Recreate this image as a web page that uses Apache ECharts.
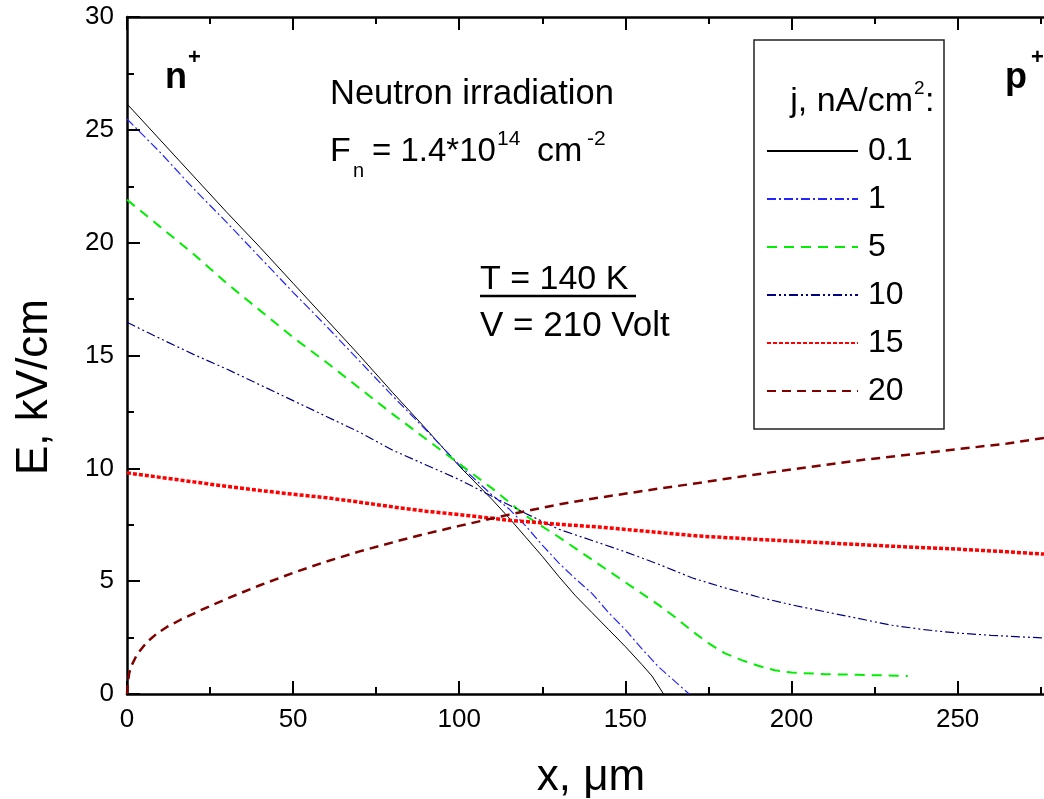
<!DOCTYPE html>
<html><head><meta charset="utf-8">
<script src="https://cdn.jsdelivr.net/npm/echarts@6/dist/echarts.min.js"></script>
<style>html,body{margin:0;padding:0;background:#fff}#c{width:1044px;height:799px}</style>
</head><body><div id="c"></div>
<script>
// ---- data (x in µm, E in kV/cm) ----
const seriesNames = ['0.1', '1', '5', '10', '15', '20'];
const j01 = [[0,26.15],[10,24.55],[20,22.95],[30,21.35],[40,19.8],[50,18.2],[60,16.6],[70,15.0],[80,13.35],[90,11.75],[100,10.1],[110,8.6],[115,7.8],[120,6.95],[125,6.1],[130,5.2],[135,4.35],[140,3.6],[145,2.85],[150,2.1],[155,1.3],[158,0.8],[161.5,0]];
const j1 = [[0,25.48],[10,24.0],[20,22.4],[30,20.9],[40,19.35],[50,17.8],[60,16.3],[70,14.75],[80,13.2],[90,11.7],[100,10.15],[110,8.8],[115,8.2],[120,7.45],[125,6.6],[130,5.8],[135,5.1],[140,4.45],[145,3.6],[150,2.85],[155,2.0],[160,1.2],[165,0.55],[169.2,0]];
const j5 = [[0,21.9],[10,20.7],[20,19.5],[30,18.2],[40,17.0],[50,15.8],[60,14.7],[70,13.55],[80,12.4],[90,11.3],[100,10.2],[110,9.1],[120,7.9],[130,6.95],[140,5.95],[150,4.95],[160,3.95],[165,3.4],[170,2.8],[175,2.25],[180,1.8],[185,1.5],[190,1.25],[195,1.05],[200,0.95],[210,0.88],[220,0.85],[235,0.8]];
const j10 = [[0,16.47],[10,15.75],[20,15.05],[30,14.4],[40,13.7],[50,13.0],[60,12.3],[70,11.6],[80,10.8],[90,10.15],[100,9.5],[110,8.75],[120,8.0],[130,7.3],[140,6.8],[150,6.3],[160,5.75],[170,5.15],[180,4.7],[190,4.3],[200,3.95],[210,3.65],[220,3.35],[230,3.05],[240,2.85],[250,2.7],[260,2.6],[276,2.48]];
const j15 = [[0,9.8],[10,9.6],[20,9.4],[30,9.2],[40,9.02],[50,8.85],[60,8.7],[70,8.5],[82,8.25],[90,8.1],[100,7.95],[115,7.7],[130,7.52],[142,7.4],[157,7.2],[172,7.0],[190,6.85],[210,6.7],[230,6.55],[250,6.42],[265,6.3],[276,6.2]];
const j20 = [[0,0],[0.3,0.55],[0.7,0.95],[1.5,1.3],[3,1.75],[6,2.3],[9,2.68],[12,2.97],[16,3.28],[22,3.7],[30,4.22],[40,4.82],[50,5.37],[60,5.87],[70,6.32],[82,6.8],[90,7.1],[100,7.45],[115,7.95],[130,8.4],[142,8.7],[160,9.1],[172,9.35],[184,9.62],[200,9.95],[220,10.35],[235,10.6],[250,10.85],[265,11.1],[276,11.35]];
const xRange = [0, 276];
const yRange = [0, 30];
const xMajorTicks = [0, 50, 100, 150, 200, 250];
const xMinorTicks = [25, 75, 125, 175, 225, 275];

const FONT = "'Liberation Sans', Arial, Helvetica, sans-serif";
const chart = echarts.init(document.getElementById('c'), null, {renderer: 'canvas'});

function mkSeries(name, data, color, width, type) {
  return {
    name, type: 'line', data, symbol: 'none', showSymbol: false, smooth: false,
    lineStyle: {color, width, type}, itemStyle: {color},
    xAxisIndex: 0, yAxisIndex: 0, silent: true, z: 3
  };
}

const lineCol = {color: '#000', width: 2.5};
function xAx(position, ticks, len, labels, showLine) {
  return {
    type: 'value', min: xRange[0], max: xRange[1], position: position,
    axisLine: {show: showLine, onZero: false, lineStyle: lineCol},
    axisTick: {show: true, inside: true, length: len, customValues: ticks, lineStyle: {color: '#000', width: 2}},
    axisLabel: labels ? {show: true, customValues: ticks, fontSize: 26, fontFamily: FONT, color: '#000', margin: 13} : {show: false},
    minorTick: {show: false}, splitLine: {show: false}
  };
}

function txt(text, x, y, size, opts) {
  opts = opts || {};
  return {
    type: 'text', x: x, y: y, rotation: opts.rotation || 0, z: 10,
    style: {
      text: text, x: 0, y: 0,
      fontSize: size, fontFamily: FONT, fontWeight: opts.bold ? 'bold' : 'normal',
      fill: '#000', align: opts.align || 'left', verticalAlign: 'middle'
    }
  };
}

const option = {
  animation: false,
  backgroundColor: '#fff',
  grid: {left: 127, right: 0, top: 17, bottom: 105, containLabel: false},
  xAxis: [
    xAx('bottom', xMajorTicks, 13, true, true),
    xAx('top', xMajorTicks, 13, false, true),
    xAx('bottom', xMinorTicks, 7, false, false),
    xAx('top', xMinorTicks, 7, false, false)
  ],
  yAxis: [{
    type: 'value', min: yRange[0], max: yRange[1], interval: 5, position: 'left',
    axisLine: {show: true, onZero: false, lineStyle: lineCol},
    axisTick: {show: true, inside: true, length: 13, lineStyle: {color: '#000', width: 2}},
    minorTick: {show: true, splitNumber: 2, length: 7, lineStyle: {color: '#000', width: 2}},
    splitLine: {show: false}, minorSplitLine: {show: false},
    axisLabel: {show: true, fontSize: 26, fontFamily: FONT, color: '#000', margin: 13}
  }],
  legend: {
    show: true, orient: 'vertical', left: 766, top: 135, padding: 0,
    itemWidth: 91, itemHeight: 20, itemGap: 16,
    data: seriesNames,
    selectedMode: false,
    itemStyle: {color: 'transparent', borderWidth: 0, opacity: 0},
    textStyle: {fontSize: 32, fontFamily: FONT, color: '#000', lineHeight: 32, padding: [0, 0, 0, 5]}
  },
  series: [
    mkSeries(seriesNames[0], j01, '#000000', 1, 'solid'),
    mkSeries(seriesNames[1], j1, '#2424ff', 1.2, [9, 3, 2, 3]),
    mkSeries(seriesNames[2], j5, '#00ee00', 2, [10, 7]),
    mkSeries(seriesNames[3], j10, '#000080', 1.2, [9, 3, 2, 3, 2, 3]),
    mkSeries(seriesNames[4], j15, '#ff0000', 3.5, [4, 2]),
    mkSeries(seriesNames[5], j20, '#800000', 2.5, [9, 6])
  ],
  graphic: [
    {type: 'rect', shape: {x: 754, y: 40, width: 190, height: 389}, style: {fill: 'none', stroke: '#222', lineWidth: 1.5}, z: 1},
    txt('j, nA/cm', 913, 102, 34, {align: 'right'}),
    txt('2', 914, 89, 19),
    txt(':', 925, 102, 34),
    txt('n', 165, 78, 36, {bold: true}),
    txt('+', 188, 58, 22, {bold: true}),
    txt('p', 1005, 78, 36, {bold: true}),
    txt('+', 1031, 58, 22, {bold: true}),
    txt('Neutron irradiation', 330, 94, 34.5),
    txt('F', 330, 152, 34),
    txt('n', 353, 171, 20),
    txt('= 1.4*10', 372, 152, 33),
    txt('14', 497, 139, 21),
    txt('cm', 537, 152, 34),
    txt('-2', 587, 139, 21),
    txt('T = 140 K', 480, 280, 34),
    {type: 'line', shape: {x1: 480, y1: 296, x2: 636, y2: 296}, style: {stroke: '#000', lineWidth: 2.5}, z: 10},
    txt('V = 210 Volt', 480, 326, 35),
    txt('E, kV/cm', 35, 387, 44, {align: 'center', rotation: Math.PI / 2}),
    txt('x, \u03bcm', 591, 778, 44, {align: 'center'})
  ]
};
chart.setOption(option);
</script>
</body></html>
